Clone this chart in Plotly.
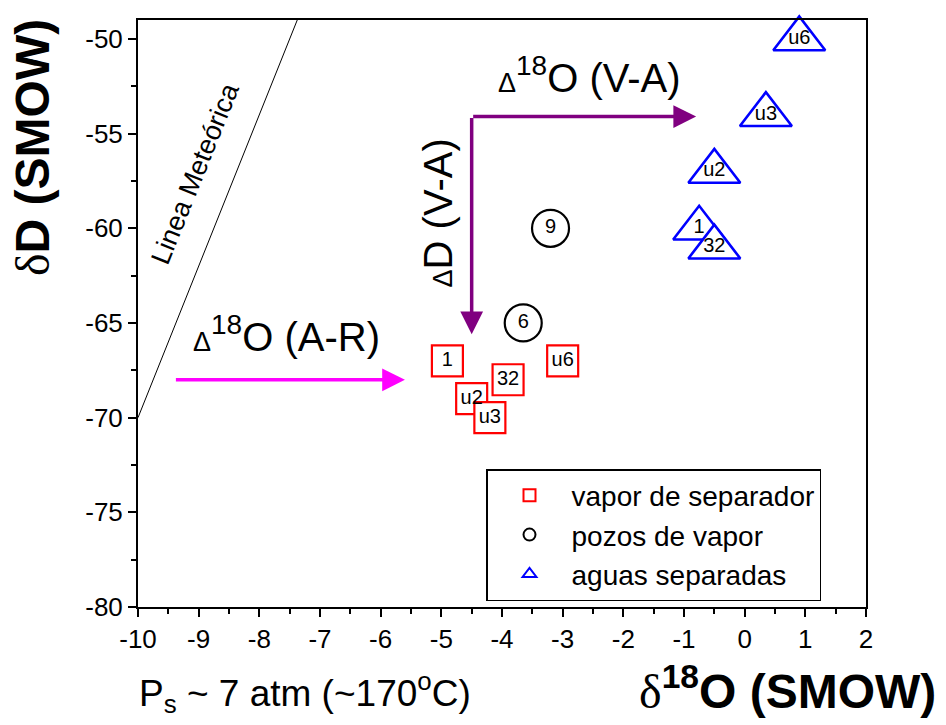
import plotly.graph_objects as go

# --- data -------------------------------------------------------------
# vapor de separador (squares)
sep_labels = ["1", "u2", "32", "u3", "u6"]
sep_o18 = [-4.9, -4.5, -3.9, -4.2, -3.0]
sep_dD = [-67, -69, -68, -70, -67]

# pozos de vapor (circles)
well_labels = ["9", "6"]
well_o18 = [-3.2, -3.65]
well_dD = [-60, -65]

# aguas separadas (triangles)
water_labels = ["1", "32", "u2", "u3", "u6"]
water_o18 = [-0.75, -0.5, -0.5, 0.35, 0.9]
water_dD = [-60, -61, -57, -54, -50]

# meteoric water line endpoints (dD = 8*d18O + 10) inside the frame
mwl_o18 = [-10.0, -7.375]
mwl_dD = [-70.0, -49.0]

# shift arrows: (tail, head)
ar_o18_tail, ar_o18_head, ar_dD = -9.4, -5.6, -68
va_o18_tail, va_o18_head, va_dD = -4.5, -0.8, -54.1
vd_o18, vd_dD_tail, vd_dD_head = -4.5, -54.1, -65.6

# tick positions and labels (plain hyphen minus)
x_ticks = [-10, -9, -8, -7, -6, -5, -4, -3, -2, -1, 0, 1, 2]
x_ticktext = ["-10", "-9", "-8", "-7", "-6", "-5", "-4", "-3", "-2", "-1", "0", "1", "2"]
y_ticks = [-80, -75, -70, -65, -60, -55, -50]
y_ticktext = ["-80", "-75", "-70", "-65", "-60", "-55", "-50"]

FONT = "Liberation Sans, Arial, sans-serif"
SERIF = "Liberation Serif, Times New Roman, serif"

fig = go.Figure()

fig.add_trace(go.Scatter(
    x=mwl_o18, y=mwl_dD, mode="lines", line=dict(color="black", width=1),
    showlegend=False, hoverinfo="skip"))

# markers
fig.add_trace(go.Scatter(
    x=sep_o18, y=sep_dD, mode="markers", name="vapor de separador",
    marker=dict(symbol="square", size=31, color="white",
                line=dict(color="#ff0000", width=2.2)),
    cliponaxis=False))
fig.add_trace(go.Scatter(
    x=well_o18, y=well_dD, mode="markers", name="pozos de vapor",
    marker=dict(symbol="circle", size=37, color="white",
                line=dict(color="black", width=2.2)),
    cliponaxis=False))
fig.add_trace(go.Scatter(
    x=water_o18, y=water_dD, mode="markers", name="aguas separadas",
    marker=dict(symbol="triangle-up", size=45, color="white",
                line=dict(color="#0000ff", width=2.6)),
    cliponaxis=False))

# point labels
for xs, ys, labs in [(sep_o18, sep_dD, sep_labels),
                     (well_o18, well_dD, well_labels),
                     (water_o18, water_dD, water_labels)]:
    fig.add_trace(go.Scatter(
        x=xs, y=ys, mode="text", text=labs, textposition="middle center",
        textfont=dict(family=FONT, size=20, color="black"),
        showlegend=False, hoverinfo="skip", cliponaxis=False))

# arrows
arrow_common = dict(xref="x", yref="y", axref="x", ayref="y", text="",
                    showarrow=True, arrowhead=2, arrowsize=1.3,
                    arrowwidth=3.5, standoff=0, startstandoff=0)
fig.add_annotation(x=ar_o18_head, y=ar_dD, ax=ar_o18_tail, ay=ar_dD,
                   arrowcolor="#ff00ff", **arrow_common)
fig.add_annotation(x=va_o18_head, y=va_dD, ax=va_o18_tail, ay=va_dD,
                   arrowcolor="#800080", **arrow_common)
fig.add_annotation(x=vd_o18, y=vd_dD_head, ax=vd_o18, ay=vd_dD_tail,
                   arrowcolor="#800080", **arrow_common)

delta_small = "<span style='font-size:27px'>Δ</span>"
fig.add_annotation(x=-2.55, y=-51.9, xref="x", yref="y", showarrow=False,
                   text=delta_small + "<sup>18</sup>O (V-A)",
                   font=dict(family=FONT, size=40, color="black"))
fig.add_annotation(x=-7.55, y=-65.6, xref="x", yref="y", showarrow=False,
                   text=delta_small + "<sup>18</sup>O (A-R)",
                   font=dict(family=FONT, size=40, color="black"))
fig.add_annotation(x=-5.05, y=-59.2, xref="x", yref="y", showarrow=False,
                   text=delta_small + "D (V-A)", textangle=-90,
                   font=dict(family=FONT, size=40, color="black"))
fig.add_annotation(x=-9.05, y=-57.1, xref="x", yref="y", showarrow=False,
                   text="Linea Meteórica", textangle=-68,
                   font=dict(family=FONT, size=27, color="black"))

# axis titles and condition label (positions given in pixels, converted below)
delta_serif = "<span style='font-family:%s;font-weight:normal'>δ</span>" % SERIF
fig.add_annotation(x=33, y=148, xref="paper", yref="paper", showarrow=False,
                   xanchor="center", yanchor="middle",
                   text=delta_serif + "D (SMOW)", textangle=-90,
                   font=dict(family=FONT, size=48, color="black", weight="bold"))
fig.add_annotation(x=787, y=688, xref="paper", yref="paper", showarrow=False,
                   xanchor="center", yanchor="middle",
                   text=delta_serif + "<sup>18</sup>O (SMOW)",
                   font=dict(family=FONT, size=48, color="black", weight="bold"))
fig.add_annotation(x=137, y=693, xref="paper", yref="paper", showarrow=False,
                   xanchor="left", yanchor="middle",
                   text="P<sub>s</sub> ~ 7 atm (~170<sup>o</sup>C)",
                   font=dict(family=FONT, size=37, color="black"))

L, R, T, B = 138, 80, 20, 118
W, H = 946, 725
pw, ph = W - L - R, H - T - B
for ann in fig.layout.annotations:
    if ann.xref == "paper":
        ann.x = (ann.x - L) / pw
        ann.y = (H - B - ann.y) / ph

axis_common = dict(showgrid=False, zeroline=False, showline=True,
                   linecolor="black", linewidth=2, mirror=True,
                   ticks="outside", ticklen=8, tickwidth=1.5, tickcolor="black",
                   tickfont=dict(family=FONT, size=26, color="black"))

fig.update_layout(
    width=W, height=H,
    margin=dict(l=L, r=R, t=T, b=B),
    paper_bgcolor="white", plot_bgcolor="white",
    xaxis=dict(range=[-10, 2], tickmode="array", tickvals=x_ticks,
               ticktext=x_ticktext,
               minor=dict(dtick=0.5, tick0=-10, ticks="outside", ticklen=5,
                          tickwidth=1.5, tickcolor="black"),
               **axis_common),
    yaxis=dict(range=[-80, -49], tickmode="array", tickvals=y_ticks,
               ticktext=y_ticktext,
               minor=dict(dtick=2.5, tick0=-80, ticks="outside", ticklen=5,
                          tickwidth=1.5, tickcolor="black"),
               **axis_common),
    xaxis2=dict(overlaying="x", side="top", range=[-10, 2], tick0=-10,
                dtick=0.5, ticks="inside", ticklen=5, tickwidth=1.5,
                tickcolor="black", showticklabels=False, showgrid=False,
                zeroline=False, showline=False),
    yaxis2=dict(overlaying="y", side="right", range=[-80, -49], tick0=-80,
                dtick=2.5, ticks="inside", ticklen=5, tickwidth=1.5,
                tickcolor="black", showticklabels=False, showgrid=False,
                zeroline=False, showline=False),
    legend=dict(x=(486 - L) / pw, y=(H - B - 469) / ph,
                xanchor="left", yanchor="top",
                bgcolor="white", bordercolor="black", borderwidth=1.5,
                font=dict(family=FONT, size=28, color="black"),
                itemsizing="constant", itemwidth=74, tracegroupgap=0),
    showlegend=True,
)

fig.write_html("out.html")
